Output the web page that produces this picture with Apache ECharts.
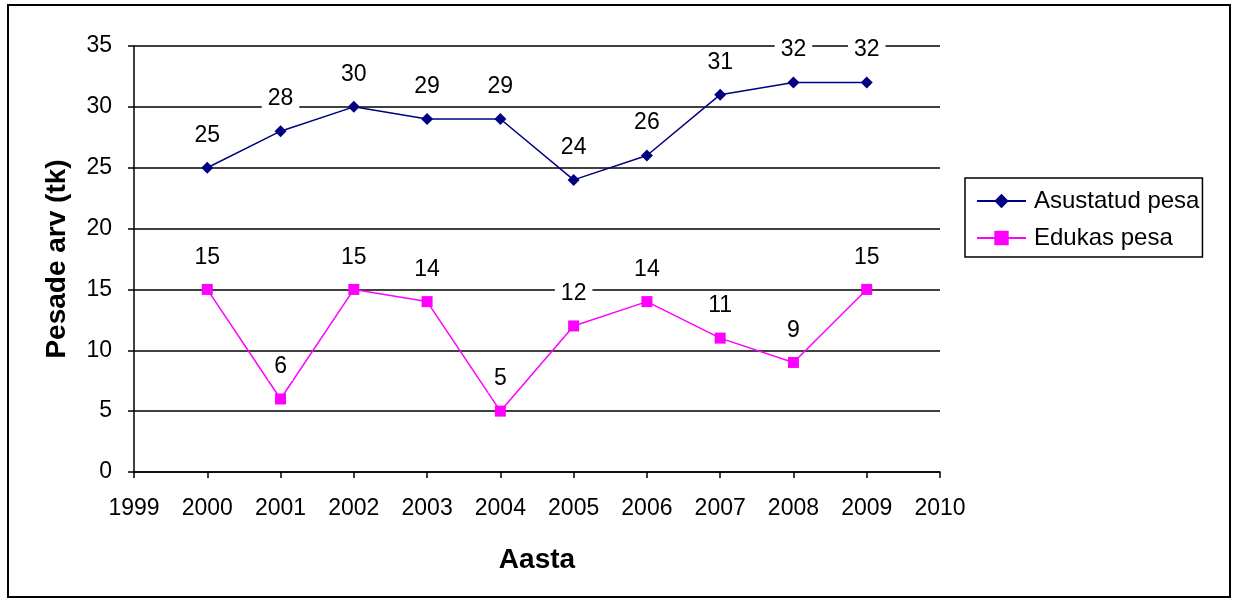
<!DOCTYPE html>
<html>
<head>
<meta charset="utf-8">
<script src="https://cdn.jsdelivr.net/npm/echarts@6/dist/echarts.min.js"></script>
<style>html,body{margin:0;padding:0;background:#fff}#c{width:1236px;height:600px}</style>
</head>
<body>
<div id="c"></div>
<script>
const years = [2000, 2001, 2002, 2003, 2004, 2005, 2006, 2007, 2008, 2009];
const asustatud = [25, 28, 30, 29, 29, 24, 26, 31, 32, 32];
const edukas = [15, 6, 15, 14, 5, 12, 14, 11, 9, 15];
const seriesNames = ['Asustatud pesa', 'Edukas pesa'];
const xTitle = 'Aasta';
const yTitle = 'Pesade arv (tk)';

const font = 'Liberation Sans, Arial, sans-serif';
const chart = echarts.init(document.getElementById('c'));
const lbl = {
  show: true, position: 'top', distance: 13, color: '#000', fontSize: 23, fontFamily: font,
  backgroundColor: '#fff', padding: [2, 6]
};
chart.setOption({
  animation: false,
  grid: { left: 134, right: 296, top: 46, bottom: 128 },
  graphic: [{ type: 'rect', shape: { x: 8, y: 5, width: 1222, height: 592 }, style: { fill: 'none', stroke: '#000', lineWidth: 2 }, silent: true }],
  xAxis: {
    type: 'value', min: 1999, max: 2010, interval: 1,
    name: xTitle, nameLocation: 'middle', nameGap: 74,
    nameTextStyle: { fontSize: 28, fontWeight: 'bold', color: '#000', fontFamily: font },
    axisLine: { lineStyle: { color: '#000', width: 1.5 } },
    axisTick: { show: true, length: 6, lineStyle: { color: '#000', width: 1.5 } },
    axisLabel: { color: '#000', fontSize: 23, fontFamily: font, margin: 25, formatter: v => String(v) },
    splitLine: { show: false }
  },
  yAxis: {
    type: 'value', min: 0, max: 35, interval: 5,
    name: yTitle, nameLocation: 'middle', nameGap: 63, nameRotate: 90,
    nameTextStyle: { fontSize: 28, fontWeight: 'bold', color: '#000', fontFamily: font },
    axisLine: { show: true, lineStyle: { color: '#000', width: 1.5 } },
    axisTick: { show: true, length: 6, lineStyle: { color: '#000', width: 1.5 } },
    axisLabel: { color: '#000', fontSize: 23, fontFamily: font, margin: 22 },
    splitLine: { show: true, lineStyle: { color: '#000', width: 1.5 } }
  },
  legend: {
    orient: 'vertical', left: 965, top: 178, padding: [11, 3, 7, 11], itemGap: 13,
    borderColor: '#000', borderWidth: 1.5, backgroundColor: '#fff',
    itemWidth: 49, itemHeight: 18,
    textStyle: { fontSize: 24, color: '#000', fontFamily: font, padding: [0, 0, 0, 3] },
    data: seriesNames
  },
  series: [
    {
      name: seriesNames[0], type: 'line', data: years.map((y, i) => [y, asustatud[i]]),
      symbol: 'diamond', symbolSize: 12, color: '#000080',
      lineStyle: { width: 1.5, color: '#000080' }, itemStyle: { color: '#000080' },
      label: lbl, z: 3
    },
    {
      name: seriesNames[1], type: 'line', data: years.map((y, i) => [y, edukas[i]]),
      symbol: 'rect', symbolSize: 11, color: '#ff00ff',
      lineStyle: { width: 1.5, color: '#ff00ff' }, itemStyle: { color: '#ff00ff' },
      label: lbl, z: 3
    }
  ]
});
</script>
</body>
</html>
